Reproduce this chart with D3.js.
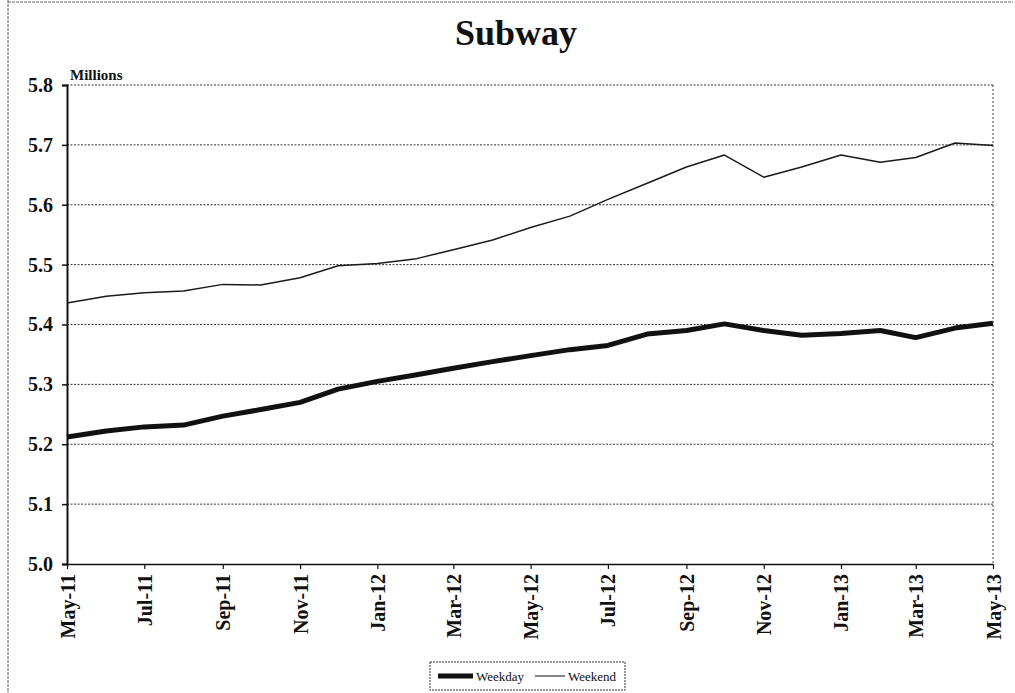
<!DOCTYPE html>
<html>
<head>
<meta charset="utf-8">
<script src="https://cdn.jsdelivr.net/npm/d3@7"></script>
<style>
  html, body { margin: 0; padding: 0; background: #fff; }
  svg { display: block; }
  text { font-family: "Liberation Serif", "DejaVu Serif", serif; fill: #111; }
</style>
</head>
<body>
<svg id="chart" width="1015" height="693"></svg>
<script>
// Monthly subway ridership, millions (May-11 .. May-13)
const months = d3.range(25).map(i => new Date(2011, 4 + i, 1));
const weekday = [5.212, 5.222, 5.229, 5.232, 5.247, 5.258, 5.270, 5.292, 5.305, 5.316,
                 5.327, 5.338, 5.348, 5.358, 5.365, 5.384, 5.390, 5.401, 5.390, 5.382,
                 5.385, 5.390, 5.378, 5.394, 5.402];
const weekend = [5.436, 5.447, 5.453, 5.456, 5.467, 5.466, 5.478, 5.498, 5.502, 5.510,
                 5.525, 5.541, 5.562, 5.581, 5.609, 5.636, 5.663, 5.683, 5.646, 5.663,
                 5.683, 5.671, 5.679, 5.703, 5.699];
const yTicks = [5.0, 5.1, 5.2, 5.3, 5.4, 5.5, 5.6, 5.7, 5.8];
const xTickMonths = d3.range(0, 25, 2);
const seriesNames = ["Weekday", "Weekend"];

const svg = d3.select("#chart");
const W = 1015, H = 693;
const margin = { left: 67, right: W - 993, top: 85, bottom: H - 564 };

const x = d3.scaleTime()
  .domain([months[0], months[24]])
  .range([margin.left, W - margin.right]);
const y = d3.scaleLinear()
  .domain([5.0, 5.8])
  .range([H - margin.bottom, margin.top]);

// outer frame
svg.append("line").attr("x1", 8).attr("x2", 8).attr("y1", 0).attr("y2", H)
  .attr("stroke", "#555").attr("stroke-width", 1).attr("stroke-dasharray", "3,1");
svg.append("line").attr("x1", 8).attr("x2", W - 2).attr("y1", 2).attr("y2", 2)
  .attr("stroke", "#666").attr("stroke-width", 1).attr("stroke-dasharray", "3,1");

// title
svg.append("text")
  .attr("x", 516).attr("y", 45)
  .attr("text-anchor", "middle")
  .attr("font-size", 36).attr("font-weight", "bold")
  .text("Subway");

svg.append("text")
  .attr("x", 70).attr("y", 80)
  .attr("font-size", 15).attr("font-weight", "bold")
  .text("Millions");

// horizontal gridlines
svg.append("g")
  .selectAll("line")
  .data(yTicks.filter(d => d > 5.0))
  .join("line")
  .attr("x1", margin.left).attr("x2", W - margin.right)
  .attr("y1", d => y(d)).attr("y2", d => y(d))
  .attr("stroke", "#333").attr("stroke-width", 1)
  .attr("stroke-dasharray", "2,1.5");

// right border of plot area
svg.append("line")
  .attr("x1", W - margin.right).attr("x2", W - margin.right)
  .attr("y1", margin.top).attr("y2", H - margin.bottom)
  .attr("stroke", "#444").attr("stroke-width", 1).attr("stroke-dasharray", "2,2");

// y axis
const yAxis = svg.append("g")
  .attr("transform", `translate(${margin.left},0)`)
  .call(d3.axisLeft(y).tickValues(yTicks).tickFormat(d3.format(".1f")).tickSize(5).tickPadding(9));
yAxis.select(".domain").attr("stroke", "#111").attr("stroke-width", 2);
yAxis.selectAll(".tick line").attr("stroke", "#111").attr("stroke-width", 1.5);
yAxis.selectAll(".tick text")
  .attr("font-family", "Liberation Serif, serif")
  .attr("font-size", 20).attr("font-weight", "bold").attr("fill", "#111");

// x axis
const fmt = d3.timeFormat("%b-%y");
const xAxis = svg.append("g")
  .attr("transform", `translate(0,${H - margin.bottom})`)
  .call(d3.axisBottom(x).tickValues(xTickMonths.map(i => months[i]))
    .tickFormat(fmt).tickSize(5).tickSizeOuter(0));
xAxis.select(".domain").attr("stroke", "#111").attr("stroke-width", 1.5);
xAxis.selectAll(".tick line").attr("stroke", "#111").attr("stroke-width", 1.2);
xAxis.selectAll(".tick text")
  .attr("font-family", "Liberation Serif, serif")
  .attr("font-size", 20).attr("font-weight", "bold").attr("fill", "#111")
  .attr("text-anchor", "end")
  .attr("transform", "rotate(-90)")
  .attr("x", -10).attr("y", 0).attr("dy", "0.35em");

// series lines
const line = d3.line()
  .x((d, i) => x(months[i]))
  .y(d => y(d));

svg.append("path").datum(weekend)
  .attr("fill", "none").attr("stroke", "#1a1a1a")
  .attr("stroke-width", 1.5).attr("stroke-linejoin", "round")
  .attr("d", line);

svg.append("path").datum(weekday)
  .attr("fill", "none").attr("stroke", "#111")
  .attr("stroke-width", 5).attr("stroke-linejoin", "round")
  .attr("d", line);

// legend
const lg = svg.append("g").attr("transform", "translate(430,662)");
lg.append("rect").attr("width", 195).attr("height", 28)
  .attr("fill", "#fff").attr("stroke", "#333").attr("stroke-width", 1)
  .attr("stroke-dasharray", "2,1");
const legendItems = [
  { name: seriesNames[0], ox: 8, len: 35, w: 5 },
  { name: seriesNames[1], ox: 105, len: 30, w: 1 }
];
legendItems.forEach(it => {
  lg.append("line").attr("x1", it.ox).attr("x2", it.ox + it.len).attr("y1", 14).attr("y2", 14)
    .attr("stroke", "#111").attr("stroke-width", it.w);
  lg.append("text").attr("x", it.ox + it.len + 3).attr("y", 18.5)
    .attr("font-size", 13).text(it.name);
});
</script>
</body>
</html>
